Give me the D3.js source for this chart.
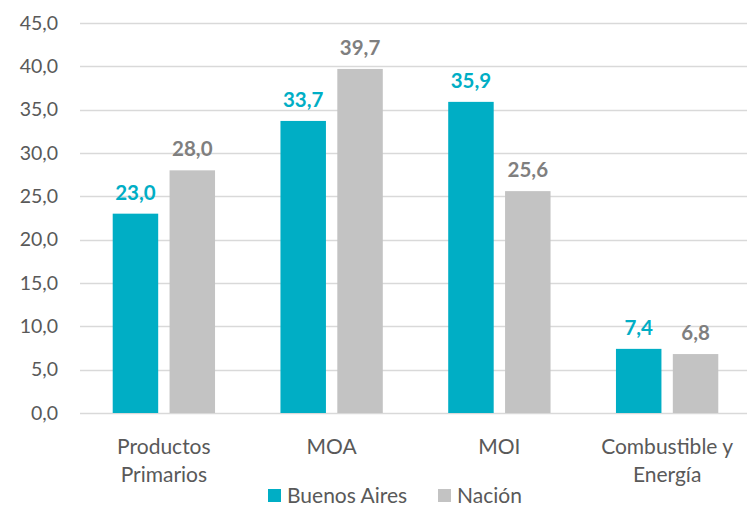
<!DOCTYPE html>
<html>
<head>
<meta charset="utf-8">
<script src="https://cdn.jsdelivr.net/npm/d3@7"></script>
<style>
  body { margin: 0; background: #fff; }
  text { font-family: Lato, "Open Sans", sans-serif; }
</style>
</head>
<body>
<div id="chart"></div>
<script>
// data
let categories = [["Productos", "Primarios"], ["MOA"], ["MOI"], ["Combustible y", "Energía"]];
let buenosAires = [23.0, 33.7, 35.9, 7.4];
let nacion = [28.0, 39.7, 25.6, 6.8];
let seriesNames = ["Buenos Aires", "Nación"];
let ticks = [0, 5, 10, 15, 20, 25, 30, 35, 40, 45];

let width = 747, height = 508;
let colors = ["#00AEC5", "#C3C3C3"];
let labelColors = ["#00AEC5", "#7F7F7F"];

let svg = d3.select("#chart").append("svg")
  .attr("width", width)
  .attr("height", height);

let x = d3.scaleBand()
  .domain(d3.range(categories.length))
  .range([80, 751]);

let inner = d3.scaleBand()
  .domain([0, 1])
  .range([x.bandwidth() * 0.195, x.bandwidth() * 0.805])
  .paddingInner(0.2);

let y = d3.scaleLinear()
  .domain([0, 45])
  .range([413, 23]);

let fmt = v => d3.format(".1f")(v).replace(".", ",");

// gridlines
svg.append("g")
  .selectAll("line")
  .data(ticks)
  .enter()
  .append("line")
  .attr("x1", 80)
  .attr("x2", width)
  .attr("y1", d => Math.round(y(d)) + 0.5)
  .attr("y2", d => Math.round(y(d)) + 0.5)
  .attr("stroke", "#D9D9D9")
  .attr("stroke-width", 1.5);

// y tick labels
svg.append("g")
  .selectAll("text")
  .data(ticks)
  .enter()
  .append("text")
  .attr("x", 58)
  .attr("y", d => y(d))
  .attr("dy", "0.35em")
  .attr("text-anchor", "end")
  .attr("font-size", "19.5px")
  .attr("fill", "#595959")
  .text(d => fmt(d));

let series = [buenosAires, nacion];

series.forEach((vals, s) => {
  let g = svg.append("g");
  g.selectAll("rect")
    .data(vals)
    .enter()
    .append("rect")
    .attr("x", (d, i) => x(i) + inner(s))
    .attr("width", inner.bandwidth())
    .attr("y", d => y(d))
    .attr("height", d => y(0) - y(d))
    .attr("fill", colors[s]);

  g.selectAll("text")
    .data(vals)
    .enter()
    .append("text")
    .attr("x", (d, i) => x(i) + inner(s) + inner.bandwidth() / 2)
    .attr("y", d => y(d) - 14)
    .attr("text-anchor", "middle")
    .attr("font-size", "20.5px")
    .attr("font-weight", "700")
    .attr("fill", labelColors[s])
    .text(d => fmt(d));
});

// category labels
let cat = svg.append("g")
  .selectAll("text")
  .data(categories)
  .enter()
  .append("text")
  .attr("text-anchor", "middle")
  .attr("font-size", "21px")
  .attr("fill", "#595959");

cat.selectAll("tspan")
  .data((d, i) => d.map(t => ({ t: t, i: i })))
  .enter()
  .append("tspan")
  .attr("x", d => x(d.i) + x.bandwidth() / 2)
  .attr("y", (d, j) => 454 + j * 28)
  .text(d => d.t);

// legend
let legendX = [268, 438];
let leg = svg.append("g")
  .selectAll("g")
  .data(seriesNames)
  .enter()
  .append("g")
  .attr("transform", (d, i) => `translate(${legendX[i]},489)`);

leg.append("rect")
  .attr("width", 13)
  .attr("height", 13)
  .attr("fill", (d, i) => colors[i]);

leg.append("text")
  .attr("x", 19)
  .attr("y", 7)
  .attr("dy", "0.35em")
  .attr("font-size", "21px")
  .attr("fill", "#595959")
  .text(d => d);
</script>
</body>
</html>
